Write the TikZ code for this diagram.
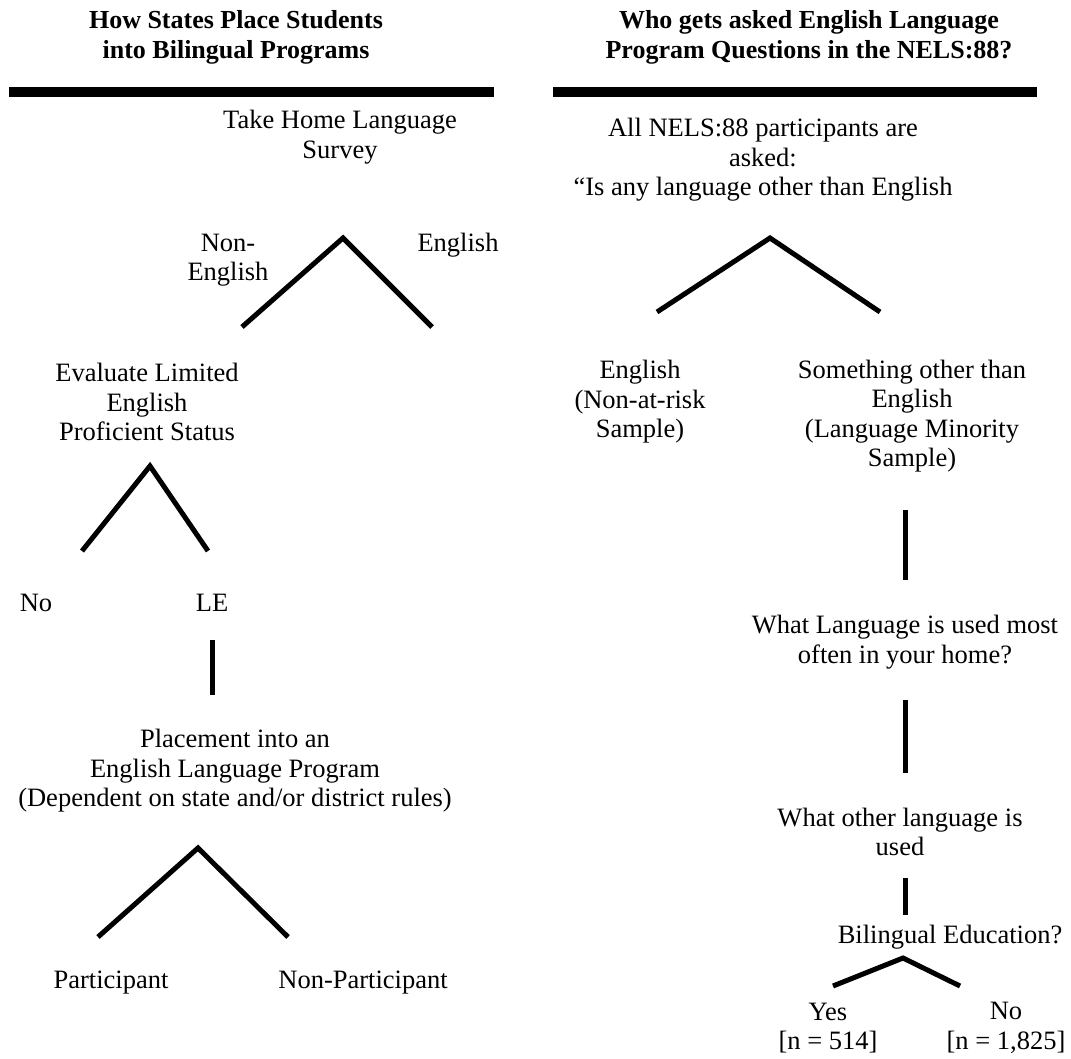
\documentclass[tikz,border=0pt]{standalone}
\usepackage{fontspec}
\setmainfont{Liberation Serif}
\usetikzlibrary{positioning}

\begin{document}
\begin{tikzpicture}[x=1pt, y=-1pt,
    txt/.style={align=center, inner sep=0pt, font=\fontsize{26.5}{29.5}\selectfont},
    heading/.style={align=center, inner sep=0pt, font=\fontsize{26}{30}\selectfont\bfseries},
    branch/.style={line width=5pt},
    headbar/.style={line width=10pt}
]
\useasboundingbox (0,0) rectangle (1071,1059);

% Headings
\node[heading] (headL) at (236,37) {How States Place Students\\into Bilingual Programs};
\node[heading] (headR) at (809,37) {Who gets asked English Language\\Program Questions in the NELS:88?};
\draw[headbar] (9,92) -- (494,92);
\draw[headbar] (553,92) -- (1037,92);

% Left tree
\node[txt] (survey) at (340,137) {Take Home Language\\Survey};
\node[txt] (nonenglish) at (228,260) {Non-\\English};
\node[txt] (english) at (458,245) {English};
\coordinate (surveyTop) at (343,238);
\coordinate (surveyL) at (242,327);
\coordinate (surveyR) at (432,327);
\draw[branch] (surveyL) -- (surveyTop) -- (surveyR);

\node[txt] (evaluate) at (147,402) {Evaluate Limited\\English\\Proficient Status};
\coordinate (evalTop) at (150,466);
\coordinate (evalL) at (82,551);
\coordinate (evalR) at (208,551);
\draw[branch] (evalL) -- (evalTop) -- (evalR);
\node[txt] (no) at (36,603) {No};
\node[txt] (le) at (212,603) {LE};

\coordinate (leTop) at (212,640);
\coordinate (leBot) at (212,695);
\draw[branch] (leTop) -- (leBot);

\node[txt] (placement) at (235,771) {Placement into an\\English Language Program\\(Dependent on state and/or district rules)};
\coordinate (placeTop) at (198,848);
\coordinate (placeL) at (98,937);
\coordinate (placeR) at (288,937);
\draw[branch] (placeL) -- (placeTop) -- (placeR);
\node[txt] (participant) at (111,983) {Participant};
\node[txt] (nonparticipant) at (363,983) {Non-Participant};

% Right tree
\node[txt] (asked) at (763,160) {All NELS:88 participants are\\asked:\\``Is any language other than English};
\coordinate (askedTop) at (770,238);
\coordinate (askedL) at (657,312);
\coordinate (askedR) at (880,312);
\draw[branch] (askedL) -- (askedTop) -- (askedR);
\node[txt] (nonrisk) at (640,402) {English\\(Non-at-risk\\Sample)};
\node[txt] (minority) at (912,416) {Something other than\\English\\(Language Minority\\Sample)};

\coordinate (minTop) at (905,510);
\coordinate (minBot) at (905,580);
\draw[branch] (minTop) -- (minBot);
\node[txt] (mostoften) at (905,642) {What Language is used most\\often in your home?};

\coordinate (oftenTop) at (905,700);
\coordinate (oftenBot) at (905,773);
\draw[branch] (oftenTop) -- (oftenBot);
\node[txt] (otherlang) at (900,832) {What other language is\\used};

\coordinate (otherTop) at (905,878);
\coordinate (otherBot) at (905,915);
\draw[branch] (otherTop) -- (otherBot);
\node[txt] (bilingual) at (950,937) {Bilingual Education?};

\coordinate (biTop) at (903,958);
\coordinate (biL) at (833,986);
\coordinate (biR) at (960,986);
\draw[branch] (biL) -- (biTop) -- (biR);
\node[txt] (yes) at (828,1028) {Yes\\{[n = 514]}};
\node[txt] (nobi) at (1006,1028) {No\\{[n = 1,825]}};

\end{tikzpicture}
\end{document}
